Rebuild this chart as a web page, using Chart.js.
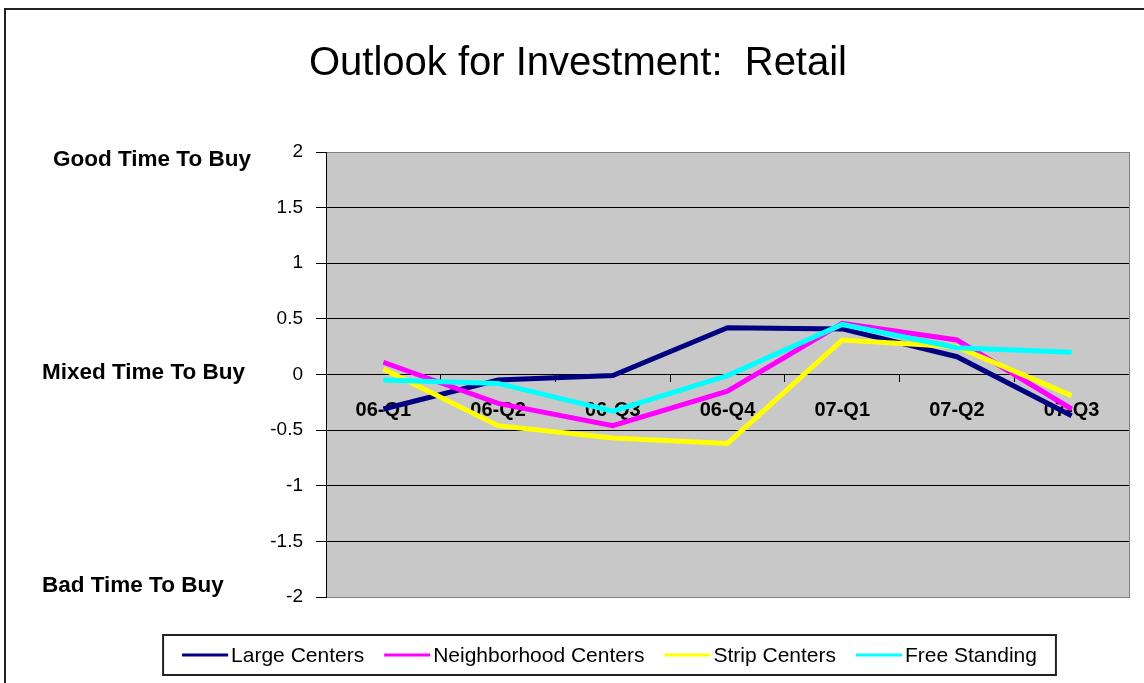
<!DOCTYPE html>
<html>
<head>
<meta charset="utf-8">
<title>Outlook for Investment: Retail</title>
<script src="https://cdn.jsdelivr.net/npm/chart.js@4.4.1/dist/chart.umd.min.js"></script>
<style>
  html, body { margin: 0; padding: 0; background: #fff; }
  canvas { display: block; }
</style>
</head>
<body>
<canvas id="retailChart" width="1144" height="683"></canvas>
<script>
// Datos
const quarters = ["06-Q1", "06-Q2", "06-Q3", "06-Q4", "07-Q1", "07-Q2", "07-Q3"];
const largeCenters = [-0.31, -0.05, -0.01, 0.42, 0.41, 0.16, -0.37];
const neighborhoodCenters = [0.11, -0.26, -0.46, -0.15, 0.46, 0.31, -0.31];
const stripCenters = [0.05, -0.46, -0.57, -0.62, 0.31, 0.25, -0.19];
const freeStanding = [-0.05, -0.08, -0.33, -0.01, 0.45, 0.24, 0.2];

const seriesNames = ["Large Centers", "Neighborhood Centers", "Strip Centers", "Free Standing"];
const seriesColors = ["#000080", "#ff00ff", "#ffff00", "#00ffff"];

const yMin = -2;
const yMax = 2;
const yStep = 0.5;

const sideLabels = ["Good Time To Buy", "Mixed Time To Buy", "Bad Time To Buy"];
const sideValues = [2, 0, -2];

const FONT = '"Liberation Sans", Arial, sans-serif';

// Fondo gris, marco, etiquetas laterales y leyenda
const decor = {
  id: "decor",
  beforeDraw(chart) {
    const { ctx, chartArea: a } = chart;
    ctx.save();
    ctx.fillStyle = "#c8c8c8";
    ctx.fillRect(a.left, a.top, a.right - a.left, a.bottom - a.top);
    ctx.strokeStyle = "#222";
    ctx.lineWidth = 2;
    ctx.beginPath();
    ctx.moveTo(5, chart.height);
    ctx.lineTo(5, 9);
    ctx.lineTo(chart.width, 9);
    ctx.stroke();
    ctx.restore();
  },
  afterDraw(chart) {
    const { ctx } = chart;
    const yScale = chart.scales.y;
    ctx.save();

    // etiquetas "Good / Mixed / Bad"
    const sideX = [53, 42, 42];
    const sideDy = [8, -2, -11];
    ctx.font = "bold 22.5px " + FONT;
    ctx.fillStyle = "#000";
    ctx.textBaseline = "middle";
    ctx.textAlign = "left";
    sideLabels.forEach((txt, i) => {
      ctx.fillText(txt, sideX[i], yScale.getPixelForValue(sideValues[i]) + sideDy[i]);
    });

    // leyenda
    ctx.font = "21px " + FONT;
    const lineLen = 46, gap = 3, itemGap = 20, pad = 19;
    const widths = seriesNames.map((n) => ctx.measureText(n).width);
    const total = widths.reduce((s, w) => s + lineLen + gap + w, 0) + itemGap * (seriesNames.length - 1);
    const cx = 609.5, cy = 655;
    const boxL = cx - total / 2 - pad, boxW = total + pad * 2;
    ctx.strokeStyle = "#222";
    ctx.lineWidth = 2;
    ctx.strokeRect(boxL, 635, boxW, 40);
    let x = cx - total / 2;
    seriesNames.forEach((name, i) => {
      ctx.strokeStyle = seriesColors[i];
      ctx.lineWidth = 3;
      ctx.beginPath();
      ctx.moveTo(x, cy);
      ctx.lineTo(x + lineLen, cy);
      ctx.stroke();
      x += lineLen + gap;
      ctx.fillStyle = "#000";
      ctx.fillText(name, x, cy + 1);
      x += widths[i] + itemGap;
    });
    ctx.restore();
  },
};

const seriesData = [largeCenters, neighborhoodCenters, stripCenters, freeStanding];

const ctx = document.getElementById("retailChart").getContext("2d");
new Chart(ctx, {
  type: "line",
  data: {
    labels: quarters,
    datasets: seriesData.map((d, i) => ({
      label: seriesNames[i],
      data: d,
      borderColor: seriesColors[i],
      backgroundColor: seriesColors[i],
      borderWidth: 5,
      pointRadius: 0,
      tension: 0,
      order: seriesData.length - i,
    })),
  },
  options: {
    responsive: false,
    devicePixelRatio: 1,
    animation: false,
    layout: { padding: { left: 12, right: 0, top: 0, bottom: 86 } },
    plugins: {
      legend: { display: false },
      tooltip: { enabled: false },
      title: {
        display: true,
        text: "Outlook for Investment:  Retail",
        color: "#000",
        font: { family: FONT, size: 40, weight: "normal" },
        padding: { top: 40, bottom: 64 },
      },
    },
    scales: {
      x: {
        position: { y: 0 },
        offset: true,
        z: 1,
        border: { color: "#000", width: 1 },
        grid: {
          offset: true,
          drawOnChartArea: false,
          tickLength: 7,
          color: "#000",
        },
        ticks: {
          color: "#000",
          font: { family: FONT, size: 20, weight: "bold" },
          padding: 17,
          maxRotation: 0,
          autoSkip: false,
        },
      },
      y: {
        min: yMin,
        max: yMax,
        afterFit: (s) => { s.width = 314; },
        border: { color: "#000", width: 1 },
        grid: {
          color: (c) => (Math.abs(c.tick.value) === yMax ? "#808080" : "#000"),
          tickColor: "#000",
          tickLength: 10,
        },
        ticks: {
          stepSize: yStep,
          color: "#000",
          font: { family: FONT, size: 19 },
          padding: 13,
          callback: (v) => String(v),
        },
      },
      y2: {
        position: "right",
        min: yMin,
        max: yMax,
        afterFit: (s) => { s.width = 15; },
        border: { color: "#808080", width: 1 },
        grid: { display: false },
        ticks: { display: false },
      },
    },
  },
  plugins: [decor],
});
</script>
</body>
</html>
